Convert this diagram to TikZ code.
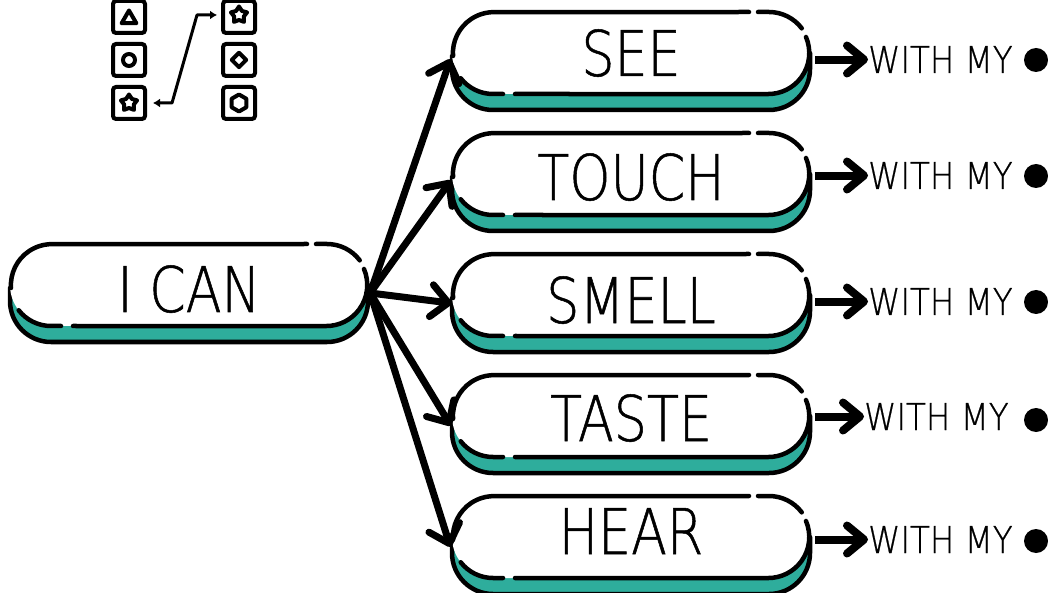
\documentclass[tikz,border=0pt]{standalone}
\usepackage{fontspec}
\usepackage{tikz}
\usetikzlibrary{arrows.meta,shapes.geometric}
\newfontfamily\pillfont[FakeStretch=0.83,FakeBold=0.8]{DejaVu Sans ExtraLight}
\newfontfamily\withfont[FakeStretch=0.88,FakeBold=0.6]{DejaVu Sans ExtraLight}
\definecolor{pillteal}{HTML}{2EAD9C}
\tikzset{
  pillnode/.style={minimum width=362pt,minimum height=100pt,inner sep=0pt},
  pillline/.style={line width=4.5pt,line cap=round},
  pilltext/.style={anchor=base,inner sep=0pt,font=\pillfont\fontsize{63}{63}\selectfont},
  withtext/.style={anchor=base west,inner sep=0pt,font=\withfont\fontsize{37}{37}\selectfont},
  blackdot/.style={circle,fill=black,minimum size=24pt,inner sep=0pt},
  fanline/.style={line width=7pt,line cap=round,shorten >=-2pt,-{Straight Barb[round,length=17pt,width=32pt]}},
  leadline/.style={line width=8pt,shorten <=3pt,-{Straight Barb[round,length=17pt,width=28pt]}},
  iconbox/.style={draw,line width=4pt,rounded corners=3pt,minimum size=32pt,inner sep=0pt},
  iconmark/.style={draw,line width=4pt,inner sep=0pt}
}
% name, left x, top y, text, baseline y
\newcommand{\pillbox}[5]{
  \node[pillnode] (#1) at (#2+179,#3-49) {};
  \begin{scope}[shift={(#2,#3)}]
    \fill[pillteal] (0,-41) -- (0,-57) arc[start angle=180,end angle=270,radius=41] -- (317,-98)
      arc[start angle=270,end angle=360,radius=41] -- (358,-41) -- cycle;
    \draw[pillline] (0,-44) -- (0,-57) arc[start angle=180,end angle=270,radius=41] -- (317,-98)
      arc[start angle=270,end angle=360,radius=41] -- (358,-41);
    \fill[white] (41,0) -- (317,0) arc[start angle=90,end angle=-90,radius=41] -- (41,-82)
      arc[start angle=270,end angle=90,radius=41] -- cycle;
    \draw[pillline] (1,-44) arc[start angle=184,end angle=90,radius=41] -- (297,0);
    \draw[pillline] (306,0) -- (317,0) arc[start angle=90,end angle=37,radius=41];
    \draw[pillline] (354,-25) arc[start angle=23,end angle=-90,radius=41] -- (63,-82);
    \draw[pillline] (51,-82) -- (41,-82) arc[start angle=270,end angle=218,radius=41];
  \end{scope}
  \node[pilltext] (#1label) at (#2+179,#5) {#4};
}
\begin{document}
\begin{tikzpicture}[x=1pt,y=1pt]
\useasboundingbox (0,0) rectangle (1048,592);
% icons
\node[iconbox] (boxa) at (129,575) {};
\node[iconbox] (boxb) at (129,532) {};
\node[iconbox] (boxc) at (129,489) {};
\node[iconbox] (boxd) at (239,575) {};
\node[iconbox] (boxe) at (239,532) {};
\node[iconbox] (boxf) at (239,489) {};
\node[iconmark,regular polygon,regular polygon sides=3,minimum size=17pt,line join=round] (marka) at (129,573) {};
\node[iconmark,circle,minimum size=12pt] (markb) at (129,532) {};
\node[iconmark,star,star points=5,star point ratio=1.7,minimum size=17pt,line join=round] (markc) at (129,489) {};
\node[iconmark,star,star points=5,star point ratio=1.7,minimum size=17pt,line join=round] (markd) at (239,577) {};
\node[iconmark,diamond,minimum size=16pt,line join=round] (marke) at (239,532) {};
\node[iconmark,regular polygon,regular polygon sides=6,shape border rotate=30,minimum size=17pt,line join=round] (markf) at (239,489) {};
\coordinate (linka) at (153,489);
\coordinate (linkb) at (217,577);
\draw[line width=3pt,line join=round,{Latex[length=7pt,width=9pt]}-{Latex[length=7pt,width=9pt]}] (linka) -- (172,489) -- (197,577) -- (linkb);
% pills
\pillbox{ican}{10}{348}{I CAN}{280}
\pillbox{see}{452}{580}{SEE}{516}
\pillbox{touch}{452}{459}{TOUCH}{392}
\pillbox{smell}{452}{338}{SMELL}{269}
\pillbox{taste}{452}{217}{TASTE}{151}
\pillbox{hear}{452}{96}{HEAR}{38}
% right side
\node[withtext] (witha) at (868,519) {WITH MY};
\node[withtext] (withb) at (868,403) {WITH MY};
\node[withtext] (withc) at (868,277) {WITH MY};
\node[withtext] (withd) at (864,162) {WITH MY};
\node[withtext] (withe) at (868,39) {WITH MY};
\node[blackdot] (dota) at (1036,532) {};
\node[blackdot] (dotb) at (1036,416) {};
\node[blackdot] (dotc) at (1036,290) {};
\node[blackdot] (dotd) at (1036,172) {};
\node[blackdot] (dote) at (1036,51) {};
% arrows
\draw[fanline] (ican.east) -- (see.west);
\draw[fanline] (ican.east) -- (touch.west);
\draw[fanline] (ican.east) -- (smell.west);
\draw[fanline] (ican.east) -- (taste.west);
\draw[fanline] (ican.east) -- (hear.west);
\draw[leadline] (see.east |- witha.west) -- (witha.west);
\draw[leadline] (touch.east |- withb.west) -- (withb.west);
\draw[leadline] (smell.east |- withc.west) -- (withc.west);
\draw[leadline] (taste.east |- withd.west) -- (withd.west);
\draw[leadline] (hear.east |- withe.west) -- (withe.west);
\end{tikzpicture}
\end{document}
